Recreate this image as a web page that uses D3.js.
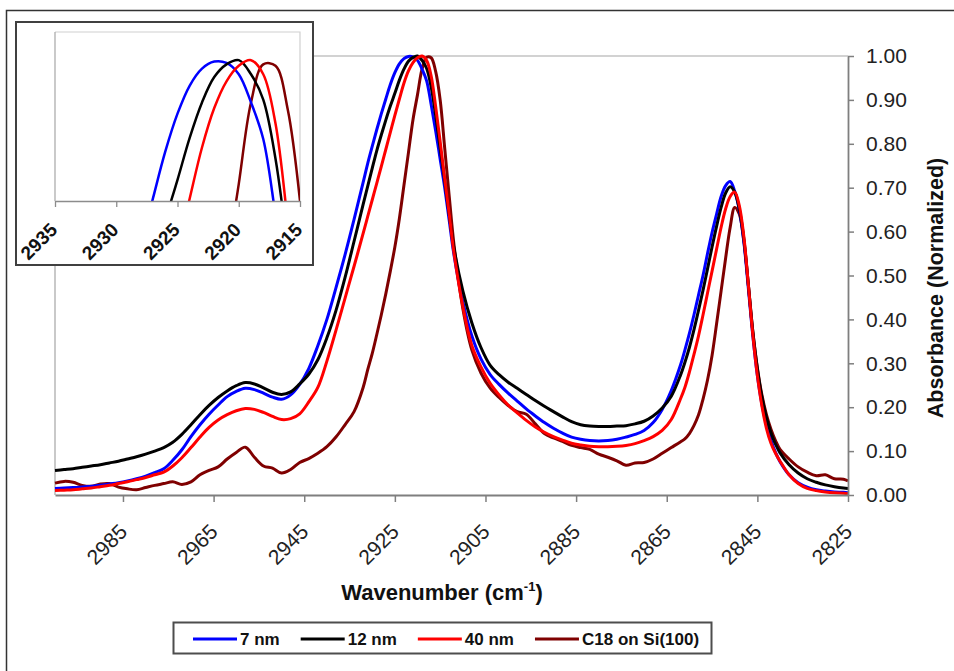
<!DOCTYPE html>
<html>
<head>
<meta charset="utf-8">
<script src="https://cdn.jsdelivr.net/npm/d3@7"></script>
<style>
  html, body { margin: 0; padding: 0; background: #fff; }
  svg { display: block; font-family: Arial, "Liberation Sans", sans-serif; }
</style>
</head>
<body>
<svg id="chart" width="954" height="671"></svg>
<script>
// Wavenumber grid (cm-1), finer around the two CH2 stretching bands
const wavenumbers = [
  3000,2998,2996,2994,2992,2990,2988,2986,2984,2982,2980,2978,2976,2974,2972,2970,2968,2966,2964,2962,2960,2958,2956,2954,2952,2950,2948,2946,2944,2942,2940,2938,2936,2934,2932,
  2931,2930,2929,2928,2927,2926,2925,2924,2923,2922,2921,2920,2919,2918,2917,2916,2915,2914,2913,2912,
  2910,2908,2906,2904,2902,2900,2898,2896,2894,2892,2890,2888,2886,2884,2882,2880,2878,2876,2874,2872,2870,2868,2866,2864,2862,
  2861,2860,2859,2858,2857,2856,2855,2854,2853,2852,2851,2850,2849,2848,2847,2846,2845,2844,2843,2842,2841,2840,
  2838,2836,2834,2832,2830,2828,2826,2825
];

// Normalized absorbance per film
const abs7nm = [
  0.015,0.016,0.017,0.018,0.020,0.022,0.025,0.028,0.032,0.037,0.043,0.051,0.060,0.079,0.103,0.133,0.160,0.184,0.205,0.224,0.236,0.243,0.240,0.232,0.223,0.218,0.228,0.252,0.288,0.340,0.400,0.472,0.547,0.628,0.712,
  0.755,0.794,0.832,0.868,0.902,0.935,0.962,0.982,0.994,0.999,0.998,0.990,0.970,0.944,0.890,0.830,0.765,0.700,0.625,0.550,
  0.440,0.362,0.310,0.275,0.252,0.232,0.214,0.196,0.180,0.165,0.152,0.141,0.132,0.127,0.124,0.123,0.124,0.127,0.132,0.138,0.147,0.165,0.195,0.238,0.295,
  0.330,0.368,0.410,0.455,0.500,0.550,0.598,0.640,0.680,0.705,0.714,0.692,0.650,0.578,0.472,0.362,0.272,0.207,0.160,0.125,0.097,0.076,
  0.046,0.028,0.018,0.012,0.009,0.007,0.006,0.005
];
const abs12nm = [
  0.056,0.058,0.060,0.063,0.066,0.069,0.073,0.077,0.082,0.087,0.093,0.100,0.108,0.120,0.138,0.160,0.183,0.204,0.222,0.237,0.249,0.256,0.253,0.244,0.234,0.229,0.235,0.253,0.275,0.308,0.358,0.420,0.495,0.578,0.662,
  0.703,0.744,0.784,0.820,0.854,0.886,0.915,0.945,0.970,0.988,0.997,1.000,0.990,0.972,0.930,0.865,0.790,0.715,0.638,0.565,
  0.465,0.392,0.336,0.296,0.274,0.257,0.243,0.229,0.215,0.202,0.190,0.178,0.167,0.160,0.157,0.156,0.156,0.157,0.158,0.162,0.168,0.180,0.198,0.225,0.272,
  0.302,0.336,0.376,0.420,0.466,0.515,0.565,0.612,0.655,0.688,0.702,0.690,0.652,0.585,0.480,0.372,0.287,0.223,0.177,0.142,0.116,0.096,
  0.069,0.050,0.037,0.029,0.023,0.019,0.016,0.015
];
const abs40nm = [
  0.010,0.011,0.012,0.014,0.016,0.019,0.022,0.026,0.030,0.035,0.040,0.046,0.052,0.066,0.085,0.108,0.132,0.154,0.171,0.183,0.192,0.197,0.195,0.188,0.179,0.172,0.174,0.185,0.212,0.245,0.305,0.375,0.448,0.521,0.596,
  0.634,0.672,0.710,0.748,0.787,0.826,0.865,0.902,0.938,0.966,0.985,0.996,1.000,0.990,0.955,0.885,0.805,0.720,0.640,0.555,
  0.430,0.340,0.292,0.255,0.228,0.205,0.187,0.170,0.155,0.143,0.133,0.125,0.118,0.114,0.111,0.110,0.110,0.111,0.113,0.117,0.124,0.133,0.147,0.172,0.218,
  0.245,0.280,0.320,0.362,0.410,0.460,0.510,0.560,0.610,0.652,0.680,0.690,0.660,0.590,0.480,0.365,0.272,0.203,0.152,0.118,0.095,0.077,
  0.046,0.026,0.015,0.010,0.007,0.005,0.004,0.003
];
const absC18 = [
  0.027,0.031,0.029,0.022,0.020,0.025,0.026,0.018,0.014,0.012,0.017,0.022,0.026,0.030,0.024,0.030,0.046,0.056,0.064,0.082,0.097,0.109,0.086,0.066,0.061,0.050,0.058,0.074,0.083,0.095,0.110,0.132,0.160,0.190,0.245,
  0.285,0.322,0.365,0.410,0.458,0.510,0.565,0.630,0.705,0.780,0.855,0.912,0.970,0.997,0.996,0.965,0.900,0.790,0.680,0.575,
  0.425,0.330,0.278,0.244,0.222,0.204,0.190,0.184,0.162,0.140,0.130,0.122,0.113,0.108,0.104,0.093,0.086,0.078,0.068,0.073,0.074,0.082,0.095,0.108,0.121,
  0.128,0.140,0.158,0.182,0.218,0.262,0.318,0.390,0.465,0.540,0.610,0.655,0.640,0.580,0.480,0.372,0.290,0.228,0.183,0.150,0.124,0.104,
  0.082,0.064,0.052,0.044,0.046,0.037,0.036,0.032
];

const seriesNames  = ["7 nm", "12 nm", "40 nm", "C18 on Si(100)"];
const seriesColors = ["#0000ff", "#000000", "#ff0000", "#7f0000"];
const seriesValues = [abs7nm, abs12nm, abs40nm, absC18];
const drawOrder = [3, 0, 1, 2];

const mainXTicks  = [2985, 2965, 2945, 2925, 2905, 2885, 2865, 2845, 2825];
const yTicks      = [0, 0.1, 0.2, 0.3, 0.4, 0.5, 0.6, 0.7, 0.8, 0.9, 1.0];
const insetXTicks = [2935, 2930, 2925, 2920, 2915];

const svg = d3.select("#chart");

const series = seriesValues.map((vals, i) => ({
  name: seriesNames[i],
  color: seriesColors[i],
  points: wavenumbers.map((w, j) => ({ w, v: vals[j] }))
}));

// outer frame
svg.append("rect")
  .attr("x", 6.5).attr("y", 10.5).attr("width", 1000).attr("height", 1000)
  .attr("fill", "none").attr("stroke", "#333").attr("stroke-width", 1.5);

// ---------- main plot ----------
const M = { left: 55, right: 848, top: 56, bottom: 495 };
const x = d3.scaleLinear().domain([3000, 2825]).range([M.left, M.right]);
const y = d3.scaleLinear().domain([0, 1]).range([M.bottom, M.top]);

// plot border (top and left)
svg.append("path")
  .attr("d", `M${M.left},${M.bottom}V${M.top}H${M.right}`)
  .attr("fill", "none").attr("stroke", "#a6a6a6").attr("stroke-width", 1.2);

const line = d3.line()
  .x(d => x(d.w)).y(d => y(d.v))
  .curve(d3.curveCatmullRom.alpha(0.5));

const gLines = svg.append("g");
drawOrder.forEach(i => {
  gLines.append("path")
    .attr("d", line(series[i].points))
    .attr("fill", "none")
    .attr("stroke", series[i].color)
    .attr("stroke-width", 3)
    .attr("stroke-linejoin", "round");
});

// bottom axis
const xAxis = d3.axisBottom(x).tickValues(mainXTicks).tickSize(7).tickSizeOuter(0)
  .tickFormat(d3.format("d"));
const gx = svg.append("g").attr("transform", `translate(0,${M.bottom})`).call(xAxis);
gx.select(".domain").attr("stroke", "#7f7f7f").attr("stroke-width", 1.8);
gx.selectAll(".tick line").attr("stroke", "#7f7f7f").attr("stroke-width", 1.5);
gx.selectAll(".tick text")
  .attr("x", 0).attr("y", 0).attr("dy", 0)
  .attr("text-anchor", "end")
  .attr("transform", "translate(5,38) rotate(-45)")
  .attr("font-size", 21).attr("fill", "#222")
  .attr("font-family", "Arial, 'Liberation Sans', sans-serif");

// right axis
const yAxis = d3.axisRight(y).tickValues(yTicks).tickSize(6).tickSizeOuter(0).tickPadding(12)
  .tickFormat(d3.format(".2f"));
const gy = svg.append("g").attr("transform", `translate(${M.right},0)`).call(yAxis);
gy.select(".domain").attr("stroke", "#7f7f7f").attr("stroke-width", 1.8);
gy.selectAll(".tick line").attr("stroke", "#7f7f7f").attr("stroke-width", 1.5);
gy.selectAll(".tick text")
  .attr("font-size", 21).attr("fill", "#222")
  .attr("font-family", "Arial, 'Liberation Sans', sans-serif");

// axis titles
svg.append("text")
  .attr("transform", "translate(943,288) rotate(-90)")
  .attr("text-anchor", "middle")
  .attr("font-size", 21.5).attr("font-weight", "bold").attr("fill", "#111")
  .text("Absorbance (Normalized)");

const xt = svg.append("text")
  .attr("x", 442).attr("y", 600)
  .attr("text-anchor", "middle")
  .attr("font-size", 22).attr("font-weight", "bold").attr("fill", "#111");
xt.append("tspan").text("Wavenumber (cm");
xt.append("tspan").attr("font-size", 13).attr("dy", -9).text("-1");
xt.append("tspan").attr("dy", 9).text(")");

// ---------- inset ----------
svg.append("rect")
  .attr("x", 16).attr("y", 22).attr("width", 297).attr("height", 243)
  .attr("fill", "#fff").attr("stroke", "#404040").attr("stroke-width", 2);

const I = { left: 55, right: 300, top: 32, bottom: 201 };
const ix = d3.scaleLinear().domain([2935, 2915]).range([I.left, I.right]);
const iy = d3.scaleLinear().domain([0.9, 1.02]).range([I.bottom, I.top]);

svg.append("path")
  .attr("d", `M${I.left},${I.top}H${I.right}V${I.bottom}`)
  .attr("fill", "none").attr("stroke", "#d0d0d0").attr("stroke-width", 1.2);
svg.append("line")
  .attr("x1", I.left).attr("x2", I.left).attr("y1", I.top).attr("y2", I.bottom)
  .attr("stroke", "#a6a6a6").attr("stroke-width", 1.2);

svg.append("clipPath").attr("id", "insetClip")
  .append("rect")
  .attr("x", I.left).attr("y", I.top)
  .attr("width", I.right - I.left).attr("height", I.bottom - I.top);

const iline = d3.line()
  .x(d => ix(d.w)).y(d => iy(d.v))
  .curve(d3.curveCatmullRom.alpha(0.5));

const gInset = svg.append("g").attr("clip-path", "url(#insetClip)");
drawOrder.forEach(i => {
  gInset.append("path")
    .attr("d", iline(series[i].points))
    .attr("fill", "none")
    .attr("stroke", series[i].color)
    .attr("stroke-width", 2.5);
});

const ixAxis = d3.axisBottom(ix).tickValues(insetXTicks).tickSize(6).tickSizeOuter(0)
  .tickFormat(d3.format("d"));
const gix = svg.append("g").attr("transform", `translate(0,${I.bottom})`).call(ixAxis);
gix.select(".domain").attr("stroke", "#8c8c8c").attr("stroke-width", 1.5);
gix.selectAll(".tick line").attr("stroke", "#8c8c8c").attr("stroke-width", 1.3);
gix.selectAll(".tick text")
  .attr("x", 0).attr("y", 0).attr("dy", 0)
  .attr("text-anchor", "end")
  .attr("transform", "translate(3,30) rotate(-45)")
  .attr("font-size", 19).attr("font-weight", "bold").attr("fill", "#111")
  .attr("font-family", "Arial, 'Liberation Sans', sans-serif");

// ---------- legend ----------
const legend = svg.append("g");
legend.append("rect")
  .attr("x", 173.5).attr("y", 622.5).attr("width", 538).attr("height", 31)
  .attr("fill", "#fff").attr("stroke", "#4d4d4d").attr("stroke-width", 2);

let lx = 193;
series.forEach(s => {
  legend.append("line")
    .attr("x1", lx).attr("x2", lx + 44).attr("y1", 639).attr("y2", 639)
    .attr("stroke", s.color).attr("stroke-width", 3);
  const t = legend.append("text")
    .attr("x", lx + 47).attr("y", 645)
    .attr("font-size", 17).attr("font-weight", "bold").attr("fill", "#111")
    .text(s.name);
  lx = lx + 47 + t.node().getComputedTextLength() + 21;
});
</script>
</body>
</html>
